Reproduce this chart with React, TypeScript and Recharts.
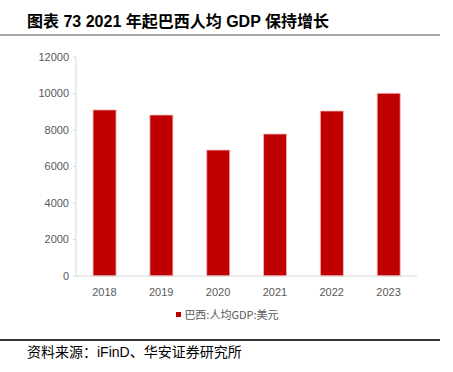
import React from "react";
import { BarChart, Bar, XAxis, YAxis, Legend } from "recharts";

const years = ["2018", "2019", "2020", "2021", "2022", "2023"];
const gdpPerCapita = [9100, 8820, 6900, 7780, 9040, 10010];
const yTicks = [0, 2000, 4000, 6000, 8000, 10000, 12000];
const seriesName = "巴西:人均GDP:美元";
const title = "图表 73 2021 年起巴西人均 GDP 保持增长";
const source = "资料来源：iFinD、华安证券研究所";

const data = years.map((y, i) => ({ year: y, value: gdpPerCapita[i] }));

const tickStyle = { fill: "#595959", fontSize: 11, fontFamily: "Liberation Sans, Arial, sans-serif" };

const LegendContent = () => (
  <div style={{ display: "flex", justifyContent: "center", alignItems: "center", fontFamily: "'Noto Sans CJK SC', sans-serif", fontSize: 11, color: "#595959", paddingLeft: 2 }}>
    <span style={{ display: "inline-block", width: 5, height: 5, background: "#C00000", marginRight: 3 }} />
    <span>{seriesName}</span>
  </div>
);

export default function App() {
  return (
    <div style={{ position: "fixed", left: 0, top: 0, width: 453, height: 372, background: "#fff", overflow: "hidden" }}>
      <div style={{ position: "absolute", left: 27, top: 10, lineHeight: "24px", fontFamily: "'Liberation Sans', 'Noto Sans CJK SC', sans-serif", fontWeight: 700, fontSize: 16, color: "#000", whiteSpace: "nowrap" }}>
        {title}
      </div>
      <div style={{ position: "absolute", left: 0, top: 34, width: 440, height: 2, background: "#a6a6a6" }} />
      <div style={{ position: "absolute", left: 0, top: 0 }}>
        <BarChart width={453} height={372} data={data} margin={{ top: 57, right: 36, bottom: 76, left: 0 }} barCategoryGap="30%">
          <XAxis dataKey="year" tick={tickStyle} tickLine={false} axisLine={{ stroke: "#d9d9d9" }} height={20} tickMargin={6} />
          <YAxis domain={[0, 12000]} ticks={yTicks} tick={tickStyle} width={76} tickSize={3} tickLine={{ stroke: "#d9d9d9" }} axisLine={{ stroke: "#d9d9d9" }} interval={0} tickMargin={4} />
          <Legend layout="horizontal" verticalAlign="middle" align="center" content={<LegendContent />} wrapperStyle={{ position: "absolute", top: 306, left: 0, width: 453 }} />
          <Bar dataKey="value" name={seriesName} fill="#C00000" stroke="#f2b8b8" strokeWidth={0.8} isAnimationActive={false} />
        </BarChart>
      </div>
      <div style={{ position: "absolute", left: 0, top: 339, width: 440, height: 1.5, background: "#333" }} />
      <div style={{ position: "absolute", left: 27, top: 342, lineHeight: "20px", fontFamily: "'Liberation Sans', 'Noto Sans CJK SC', sans-serif", fontSize: 14, color: "#000", whiteSpace: "nowrap" }}>
        {source}
      </div>
    </div>
  );
}
